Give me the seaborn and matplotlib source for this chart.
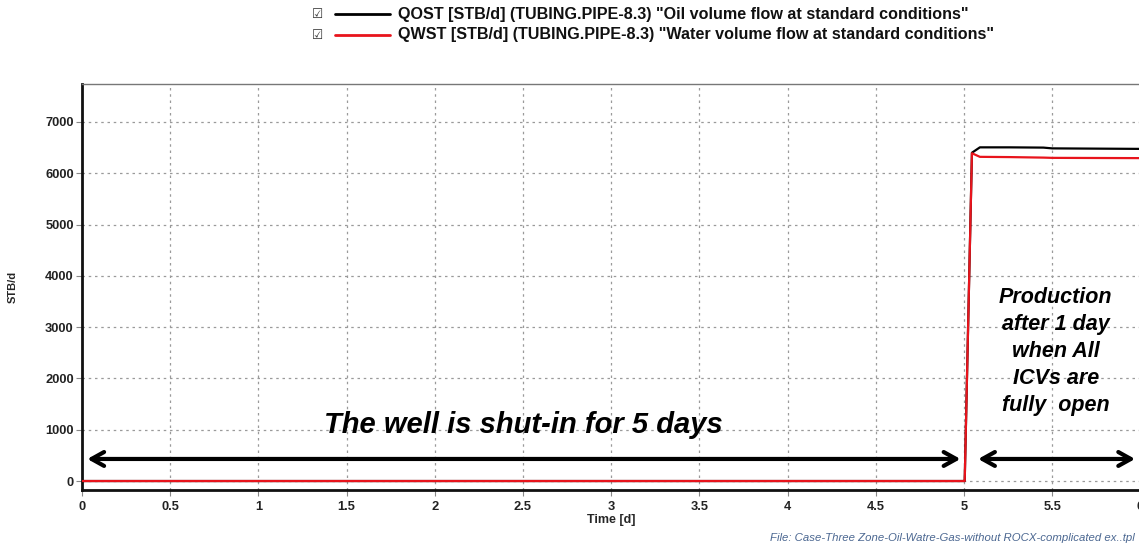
import matplotlib
matplotlib.use("Agg")
import matplotlib.pyplot as plt
from matplotlib.lines import Line2D
import seaborn as sns

# Simulated rates at standard conditions (time in days)
time_d = [0.0, 5.0, 5.004, 5.045, 5.09, 5.26, 5.45, 5.5, 6.0]
oil_rate = [0, 0, 0, 6400, 6505, 6505, 6500, 6485, 6475]
water_rate = [0, 0, 0, 6390, 6320, 6315, 6305, 6300, 6295]

x_ticks = [0, 0.5, 1, 1.5, 2, 2.5, 3, 3.5, 4, 4.5, 5, 5.5, 6]
x_tick_labels = ["0", "0.5", "1", "1.5", "2", "2.5", "3", "3.5", "4", "4.5", "5", "5.5", "6"]
y_ticks = [0, 1000, 2000, 3000, 4000, 5000, 6000, 7000]

legend_labels = [
    'QOST [STB/d] (TUBING.PIPE-8.3) "Oil volume flow at standard conditions"',
    'QWST [STB/d] (TUBING.PIPE-8.3) "Water volume flow at standard conditions"',
]
line_colors = ["black", "#e8141c"]

sns.set_style("white")
plt.rcParams["font.family"] = ["Liberation Sans", "DejaVu Sans"]

W, H = 1139, 546
fig = plt.figure(figsize=(W / 100, H / 100), dpi=100)
ax = fig.add_axes([82 / W, 1 - 490 / H, (1140.4 - 82) / W, (490 - 84) / H])

sns.lineplot(x=time_d, y=oil_rate, ax=ax, color=line_colors[0], lw=1.6,
             estimator=None, sort=False, zorder=3)
sns.lineplot(x=time_d, y=water_rate, ax=ax, color=line_colors[1], lw=1.6,
             estimator=None, sort=False, zorder=4)

ax.set_xlim(0, 6)
ax.set_ylim(-175, 7740)
ax.set_xticks(x_ticks)
ax.set_xticklabels(x_tick_labels)
ax.set_yticks(y_ticks)

ax.grid(True, color="#9a9a9a", linestyle=(0, (2, 3)), lw=0.9)
ax.set_axisbelow(True)

for side in ("left", "bottom"):
    ax.spines[side].set_color("#111111")
    ax.spines[side].set_linewidth(2)
ax.spines["top"].set_color("#777777")
ax.spines["top"].set_linewidth(1)
ax.spines["right"].set_visible(False)

ax.tick_params(axis="both", which="both", length=4, width=0.8, color="#888888",
               labelsize=9.3, labelcolor="#222222", direction="out",
               left=True, bottom=True)
for lab in ax.get_xticklabels() + ax.get_yticklabels():
    lab.set_fontweight("bold")
ax.tick_params(axis="x", pad=4)
ax.tick_params(axis="y", pad=2)

ax.set_xlabel("Time [d]", fontsize=9, fontweight="bold", labelpad=1)
ax.set_ylabel("STB/d", fontsize=8, fontweight="bold", labelpad=20)

# Double-headed arrows marking the shut-in and production periods
arrow_kw = dict(arrowstyle="<->,head_length=0.9,head_width=0.5", lw=3, color="black",
                shrinkA=0, shrinkB=0)
ax.annotate("", xy=(0.03, 430), xytext=(4.98, 430), arrowprops=arrow_kw, zorder=5)
ax.annotate("", xy=(5.08, 430), xytext=(5.97, 430), arrowprops=arrow_kw, zorder=5)

ax.text(2.5, 1100, "The well is shut-in for 5 days", ha="center", va="center",
        fontsize=21, fontweight="bold", fontstyle="italic", color="black", zorder=6)
ax.text(5.52, 2520, "Production\nafter 1 day\nwhen All\nICVs are\nfully  open",
        ha="center", va="center", fontsize=15.5, fontweight="bold",
        fontstyle="italic", color="black", linespacing=1.38, zorder=6)

# Series legend drawn above the axes
rows_y = [1 - 14 / H, 1 - 35 / H]
for yy, lab, col in zip(rows_y, legend_labels, line_colors):
    fig.text(318 / W, yy, "\u2611", fontsize=9, color="#333333", ha="center",
             va="center", family=["DejaVu Sans"])
    fig.add_artist(Line2D([335 / W, 390 / W], [yy, yy], color=col, lw=2,
                          transform=fig.transFigure))
    fig.text(398 / W, yy, lab, fontsize=11.6, fontweight="bold", color="#111111",
             ha="left", va="center")

fig.text(1135 / W, 1 - 538 / H,
         "File: Case-Three Zone-Oil-Watre-Gas-without ROCX-complicated ex..tpl",
         fontsize=8.2, fontstyle="italic", color="#4b6791", ha="right", va="center")

fig.savefig("out.png", dpi=100)
